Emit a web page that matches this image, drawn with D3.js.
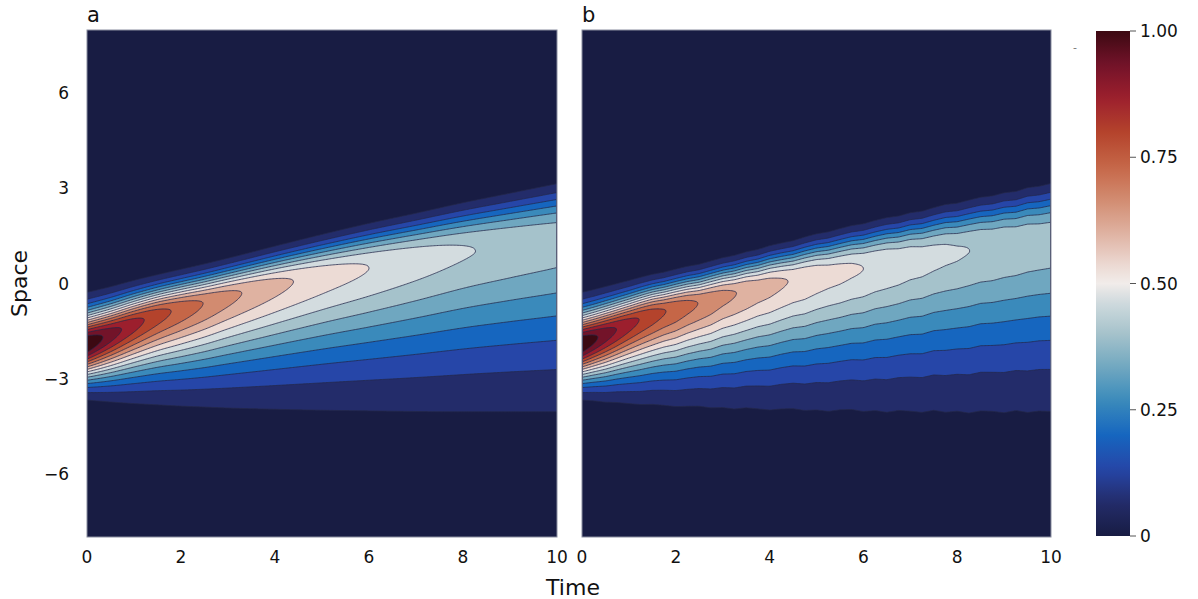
<!DOCTYPE html>
<html><head><meta charset="utf-8">
<script src="https://cdn.jsdelivr.net/npm/d3@7"></script>
<style>body{margin:0;background:#fff;} svg{display:block;} text{font-family:"DejaVu Sans",sans-serif;fill:#111;}</style>
</head><body>
<svg id="chart" width="1198" height="599"></svg>
<script>
// ---- values (profile of the field at sample times) ----
const sampleTimes = [0, 0.5, 1, 1.5, 2, 2.5, 3, 4, 5, 6, 7, 8, 9, 10];
const peakValue   = [1.0, 0.91, 0.84, 0.78, 0.73, 0.685, 0.645, 0.583, 0.535, 0.50, 0.47, 0.443, 0.425, 0.41];
const peakPos     = [-1.9, -1.6, -1.28, -1.0, -0.8, -0.62, -0.42, -0.07, 0.22, 0.47, 0.72, 0.95, 1.13, 1.3];
const upperEdge   = [-0.28, -0.1, 0.1, 0.28, 0.45, 0.62, 0.8, 1.18, 1.55, 1.9, 2.22, 2.55, 2.85, 3.15];
const lowerEdge   = [-3.68, -3.74, -3.79, -3.83, -3.87, -3.9, -3.93, -3.97, -4.0, -4.02, -4.04, -4.05, -4.05, -4.05];
const upperShape  = [2.0, 2.05, 2.1, 2.15, 2.2, 2.25, 2.3, 2.4, 2.5, 2.6, 2.65, 2.7, 2.75, 2.8];
const lowerShape  = [2.0, 1.95, 1.9, 1.87, 1.84, 1.81, 1.78, 1.74, 1.7, 1.67, 1.65, 1.63, 1.61, 1.6];
// panel b: small deviations (in space units) of the approximate solution, every 0.25 time units
const jitterTimes   = d3.range(0, 10.001, 0.25);
const jitterLowNear = [0,0,0,-0.005,0.005,0.01,-0.005,0.01,-0.01,0.015,0.005,-0.015,0.02,0,-0.01,0.02,-0.01,0.005,0.02,-0.02,0.01,0.025,-0.01,0.005,-0.02,0.02,0.01,-0.015,0.03,-0.02,0.01,0.02,-0.025,0.005,0.025,-0.015,0.02,-0.02,0.03,0.005,-0.02];
const jitterLowFar  = [0,0.005,-0.005,0.01,0,-0.01,0.015,0.005,-0.015,0.01,0.025,-0.01,0.015,-0.02,0.03,0.005,-0.025,0.02,0.035,-0.015,0.01,-0.03,0.025,0.04,-0.02,0.015,-0.035,0.03,0.01,-0.025,0.045,-0.015,0.02,-0.04,0.03,0.015,-0.03,0.04,-0.02,0.025,0.01];
const jitterUp      = [0,0,0.005,0,-0.005,0.005,0.01,-0.005,0.005,0.01,-0.01,0.005,0.015,-0.005,0.01,-0.01,0.015,0.005,-0.015,0.01,0.02,-0.01,0.005,0.015,-0.015,0.01,0.02,-0.01,0.015,-0.02,0.01,0.025,-0.015,0.005,0.02,-0.01,0.015,-0.02,0.025,-0.005,0.01];
// contour levels and ticks
const levels = d3.range(0, 17).map(k => k / 16);
const xTicks = [0, 2, 4, 6, 8, 10];
const yTicks = [-6, -3, 0, 3, 6];
const cbTicks = [0, 0.25, 0.5, 0.75, 1];
const cbTickLabels = ["0", "0.25", "0.50", "0.75", "1.00"];
const panelLabels = ["a", "b"];
// colormap (balance-like)
const cmapPos = [0, 0.067, 0.133, 0.2, 0.267, 0.333, 0.4, 0.467, 0.5, 0.533, 0.6, 0.667, 0.733, 0.8, 0.867, 0.933, 1];
const cmapCol = ["#181c43","#232c6a","#2646a8","#1666bf","#3a8abb","#6fa7c0","#a5c2cb","#d3dcdf","#f1ecea","#ecdbd5","#dfb2a1","#d28b70","#c56647","#b4432c","#9c1f2d","#731329","#3c0912"];

const cmap = d3.scaleLinear().domain(cmapPos).range(cmapCol).interpolate(d3.interpolateRgb).clamp(true);

function monotone(xs, ys) {
  const n = xs.length, d = [], m = new Array(n);
  for (let i = 0; i < n - 1; i++) d.push((ys[i+1] - ys[i]) / (xs[i+1] - xs[i]));
  m[0] = d[0]; m[n-1] = d[n-2];
  for (let i = 1; i < n - 1; i++) m[i] = (d[i-1] * d[i] <= 0) ? 0 : (d[i-1] + d[i]) / 2;
  for (let i = 0; i < n - 1; i++) {
    if (d[i] === 0) { m[i] = 0; m[i+1] = 0; continue; }
    const a = m[i] / d[i], b = m[i+1] / d[i], s = a*a + b*b;
    if (s > 9) { const tau = 3 / Math.sqrt(s); m[i] = tau*a*d[i]; m[i+1] = tau*b*d[i]; }
  }
  return t => {
    let i = d3.bisectRight(xs, t) - 1; i = Math.max(0, Math.min(n - 2, i));
    const h = xs[i+1] - xs[i], u = (t - xs[i]) / h;
    const h00 = 2*u*u*u - 3*u*u + 1, h10 = u*u*u - 2*u*u + u, h01 = -2*u*u*u + 3*u*u, h11 = u*u*u - u*u;
    return h00*ys[i] + h10*h*m[i] + h01*ys[i+1] + h11*h*m[i+1];
  };
}
const fA = monotone(sampleTimes, peakValue), fC = monotone(sampleTimes, peakPos),
      fU = monotone(sampleTimes, upperEdge), fL = monotone(sampleTimes, lowerEdge),
      fPU = monotone(sampleTimes, upperShape), fPL = monotone(sampleTimes, lowerShape);
const jLN = d3.scaleLinear().domain(jitterTimes).range(jitterLowNear).clamp(true);
const jLF = d3.scaleLinear().domain(jitterTimes).range(jitterLowFar).clamp(true);
const jU  = d3.scaleLinear().domain(jitterTimes).range(jitterUp).clamp(true);

function fieldA(t, x) {
  const A = fA(t), c = fC(t);
  let s, p;
  if (x >= c) { s = (x - c) / (fU(t) - c); p = fPU(t); }
  else { s = (c - x) / (c - fL(t)); p = fPL(t); }
  return A * Math.exp(Math.log(levels[1] / A) * Math.pow(s, p));
}
function fieldB(t, x) {
  const c = fC(t), xl = fL(t);
  const s = Math.max(0, Math.min(1, (c - x) / (c - xl)));
  const low = jLN(t) * (1 - s) + jLF(t) * s;
  const w = Math.max(0, Math.min(1, (x - c + 0.3) / 0.6));
  const ww = w * w * (3 - 2 * w);
  const J = low * (1 - ww) + jU(t) * ww;
  return fieldA(t, x - J);
}

const svg = d3.select("#chart");
const y = d3.scaleLinear().domain([-8, 8]).range([537, 30]);
const xA = d3.scaleLinear().domain([0, 10]).range([87, 557]);
const xB = d3.scaleLinear().domain([0, 10]).range([582, 1051]);

const nx = 330, ny = 540;
const gT = d3.scaleLinear().domain([0, nx]).range([0, 10]);
const gX = d3.scaleLinear().domain([0, ny]).range([8, -8]);

function drawPanel(xs, field, id, label) {
  const vals = new Float64Array(nx * ny);
  for (let j = 0; j < ny; j++) {
    const xv = gX(j + 0.5);
    for (let i = 0; i < nx; i++) vals[j * nx + i] = field(gT(i + 0.5), xv);
  }
  const thr = levels.slice(1, 16);
  const polys = d3.contours().size([nx, ny]).thresholds(thr)(vals);
  const proj = d3.geoTransform({ point: function (px, py) { this.stream.point(xs(gT(px)), y(gX(py))); } });
  const path = d3.geoPath(proj);
  const [x0, x1] = xs.range(), [y1, y0] = y.range();
  svg.append("clipPath").attr("id", id).append("rect").attr("x", x0).attr("y", y0).attr("width", x1 - x0).attr("height", y1 - y0);
  const g = svg.append("g").attr("clip-path", `url(#${id})`);
  g.append("rect").attr("x", x0).attr("y", y0).attr("width", x1 - x0).attr("height", y1 - y0).attr("fill", cmap(0));
  g.selectAll("path.band").data(polys).join("path").attr("class", "band")
    .attr("d", path).attr("fill", (d, k) => cmap((k + 1) / 15)).attr("stroke", "none");
  g.selectAll("path.line").data(polys).join("path").attr("class", "line")
    .attr("d", path).attr("fill", "none").attr("stroke", "#24274a").attr("stroke-opacity", 0.9).attr("stroke-width", 0.85);
  svg.append("rect").attr("x", x0).attr("y", y0).attr("width", x1 - x0).attr("height", y1 - y0)
    .attr("fill", "none").attr("stroke", "#8a8ea0").attr("stroke-width", 1);
  svg.append("text").attr("x", x0).attr("y", 22).attr("font-size", 21).text(label);
  svg.selectAll(null).data(xTicks).join("text").attr("x", d => xs(d)).attr("y", 563)
    .attr("text-anchor", "middle").attr("font-size", 17).text(d => d);
}
drawPanel(xA, fieldA, "clipA", panelLabels[0]);
drawPanel(xB, fieldB, "clipB", panelLabels[1]);

svg.selectAll(null).data(yTicks).join("text").attr("x", 69).attr("y", d => y(d) + 6)
  .attr("text-anchor", "end").attr("font-size", 17).text(d => d < 0 ? "\u2212" + Math.abs(d) : d);
svg.append("text").attr("transform", `translate(27,${y(0)}) rotate(-90)`).attr("text-anchor", "middle")
  .attr("font-size", 22).text("Space");
svg.append("text").attr("x", 573).attr("y", 595).attr("text-anchor", "middle").attr("font-size", 22).text("Time");

// colorbar
const cb = d3.scaleLinear().domain([0, 1]).range([536, 31]);
const grad = svg.append("defs").append("linearGradient").attr("id", "cbg").attr("x1", 0).attr("y1", 1).attr("x2", 0).attr("y2", 0);
d3.range(0, 1.0001, 0.02).forEach(v => grad.append("stop").attr("offset", v).attr("stop-color", cmap(v)));
svg.append("rect").attr("x", 1096).attr("y", cb(1)).attr("width", 34).attr("height", cb(0) - cb(1)).attr("fill", "url(#cbg)");
svg.selectAll(null).data(cbTicks).join("line").attr("x1", 1130).attr("x2", 1136)
  .attr("y1", d => cb(d)).attr("y2", d => cb(d)).attr("stroke", "#555").attr("stroke-width", 1);
svg.selectAll(null).data(cbTicks).join("text").attr("x", 1140).attr("y", d => cb(d) + 6)
  .attr("font-size", 17).text((d, i) => cbTickLabels[i]);
svg.append("text").attr("x", 1073).attr("y", 51).attr("font-size", 11).style("fill", "#777").text("-");
</script>
</body></html>
